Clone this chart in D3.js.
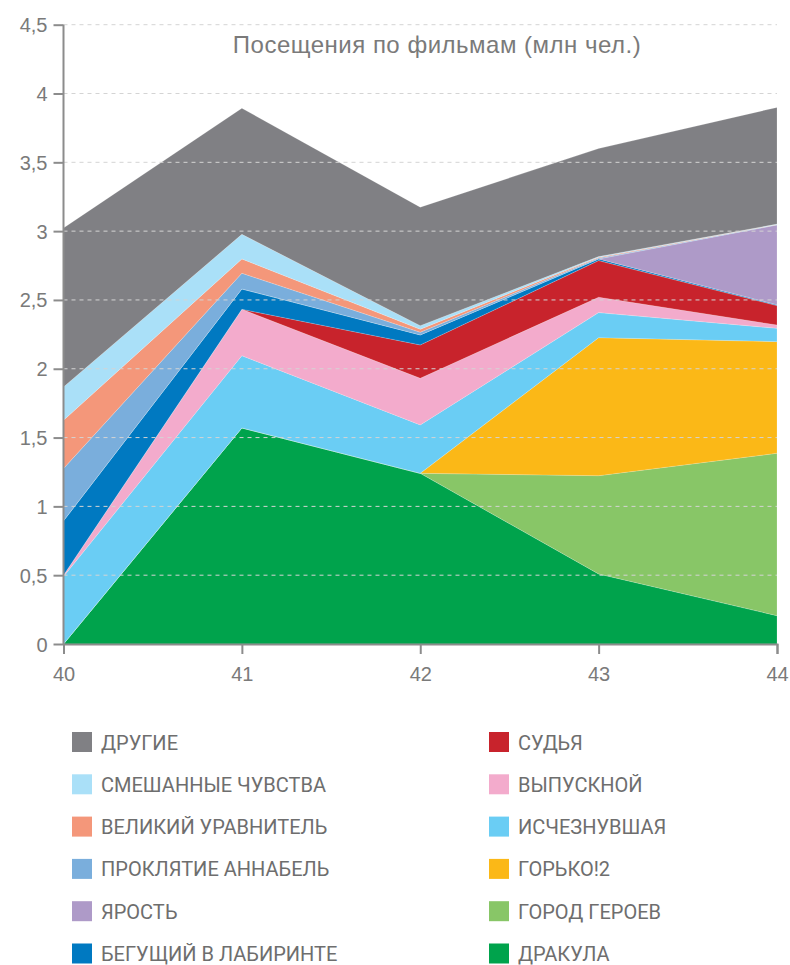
<!DOCTYPE html>
<html>
<head>
<meta charset="utf-8">
<script src="https://cdn.jsdelivr.net/npm/d3@7"></script>
<style>
  body { margin: 0; background: #fff; }
  text { font-family: "Liberation Sans", Arial, sans-serif; }
</style>
</head>
<body>
<svg id="chart"></svg>
<script>
const width = 790;
const height = 965;

const weeks = [40, 41, 42, 43, 44];
const yTicks = [0, 0.5, 1, 1.5, 2, 2.5, 3, 3.5, 4, 4.5];

// bottom to top
const films = ["ДРАКУЛА", "ГОРОД ГЕРОЕВ", "ГОРЬКО!2", "ИСЧЕЗНУВШАЯ", "ВЫПУСКНОЙ", "СУДЬЯ",
  "БЕГУЩИЙ В ЛАБИРИНТЕ", "ЯРОСТЬ", "ПРОКЛЯТИЕ АННАБЕЛЬ", "ВЕЛИКИЙ УРАВНИТЕЛЬ", "СМЕШАННЫЕ ЧУВСТВА", "ДРУГИЕ"];
const colors = ["#00a34c", "#88c667", "#fbb817", "#6acdf4", "#f3abcc", "#c8232c",
  "#0079c1", "#ae9ac8", "#7aaedc", "#f4977a", "#aae0f8", "#808084"];

const dracula   = [0, 1.57, 1.24, 0.509, 0.206];
const gorod     = [0, 0, 0, 0.714, 1.18];
const gorko     = [0, 0, 0, 1.003, 0.811];
const ischez    = [0.49, 0.525, 0.352, 0.182, 0.097];
const vypusk    = [0.01, 0.337, 0.339, 0.112, 0.024];
const sudya     = [0, 0, 0.242, 0.266, 0.141];
const begush    = [0.395, 0.148, 0.073, 0.012, 0.006];
const yarost    = [0, 0, 0, 0, 0.58];
const proklyat  = [0.38, 0.114, 0.019, 0.006, 0.002];
const velikiy   = [0.351, 0.104, 0.022, 0.006, 0.002];
const smesh     = [0.242, 0.179, 0.026, 0.005, 0.002];
const drugie    = [1.155, 0.916, 0.861, 0.785, 0.848];

const series = [dracula, gorod, gorko, ischez, vypusk, sudya, begush, yarost, proklyat, velikiy, smesh, drugie];

const rows = weeks.map((w, i) => {
    const r = { week: w };
    films.forEach((f, j) => r[f] = series[j][i]);
    return r;
});

const svg = d3.select("#chart")
    .attr("width", width)
    .attr("height", height);

const x = d3.scaleLinear().domain([40, 44]).range([63.5, 777]);
const y = d3.scaleLinear().domain([0, 4.5]).range([644, 24.7]);

const stacked = d3.stack().keys(films)(rows);

const area = d3.area()
    .x(d => x(d.data.week))
    .y0(d => y(d[0]))
    .y1(d => y(d[1]));

svg.append("g")
    .selectAll("path")
    .data(stacked)
    .join("path")
    .attr("d", area)
    .attr("fill", (d, i) => colors[i])
    .attr("stroke", "rgba(255,255,255,0.35)")
    .attr("stroke-width", 0.5);

// dashed grid on top of the areas
svg.append("g")
    .selectAll("line")
    .data(yTicks.filter(t => t > 0))
    .join("line")
    .attr("x1", x(40))
    .attr("x2", x(44))
    .attr("y1", d => y(d))
    .attr("y2", d => y(d))
    .attr("stroke", "#d4d4d4")
    .attr("stroke-width", 1)
    .attr("stroke-dasharray", "4,4");

const fmt = d => String(d).replace(".", ",");

const yAxis = svg.append("g")
    .attr("transform", `translate(${x(40)},0)`)
    .call(d3.axisLeft(y).tickValues(yTicks).tickFormat(fmt).tickSize(10).tickPadding(6));

const xAxis = svg.append("g")
    .attr("transform", `translate(0,${y(0)})`)
    .call(d3.axisBottom(x).tickValues(weeks).tickFormat(d3.format("d")).tickSize(10).tickPadding(13));

[yAxis, xAxis].forEach(g => {
    g.select(".domain").attr("stroke", "#8c8c8c").attr("stroke-width", 2);
    g.selectAll(".tick line").attr("stroke", "#8c8c8c").attr("stroke-width", 2);
    g.selectAll(".tick text")
        .attr("fill", "#7a7a7a")
        .style("font-size", "20px")
        .style("font-family", "'Liberation Sans', Arial, sans-serif");
});
yAxis.select(".domain").attr("d", `M0,${y(4.5)}V${y(0)}`);
yAxis.selectAll(".tick text").attr("dy", "0.35em");

svg.append("text")
    .attr("x", 437)
    .attr("y", 53)
    .attr("text-anchor", "middle")
    .attr("fill", "#7a7a7a")
    .style("font-size", "24px")
    .style("letter-spacing", "0.5px")
    .text("Посещения по фильмам (млн чел.)");

// legend: two columns, top to bottom
const legendOrder = films.slice().reverse();
const legend = svg.append("g")
    .selectAll("g")
    .data(legendOrder)
    .join("g")
    .attr("transform", (d, i) => {
        const col = Math.floor(i / 6);
        const row = i % 6;
        return `translate(${col === 0 ? 72 : 489},${732 + row * 42.3})`;
    });

legend.append("rect")
    .attr("width", 20)
    .attr("height", 20)
    .attr("fill", d => colors[films.indexOf(d)]);

legend.append("text")
    .attr("x", 29)
    .attr("y", 17.5)
    .attr("fill", "#6e6e6e")
    .style("font-size", "20px")
    .style("font-family", "Roboto, sans-serif")
    .text(d => d);
</script>
</body>
</html>
